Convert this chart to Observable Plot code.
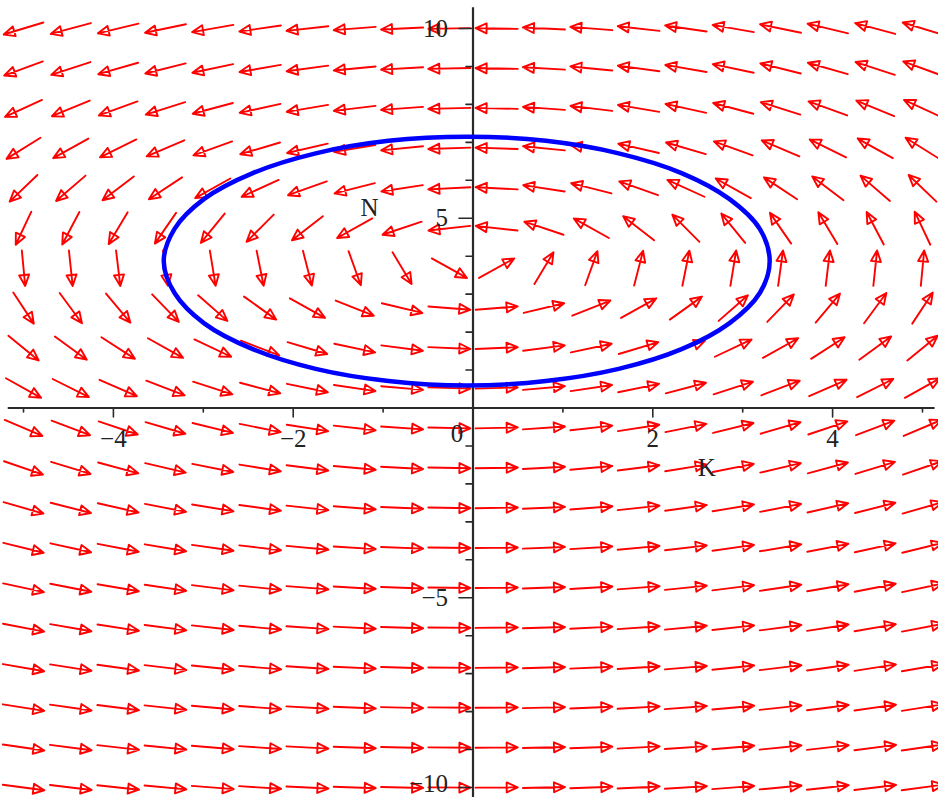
<!DOCTYPE html>
<html><head><meta charset="utf-8">
<script src="https://cdn.jsdelivr.net/npm/d3@7"></script>
<script src="https://cdn.jsdelivr.net/npm/@observablehq/plot@0.6"></script>
<style>body{margin:0;background:#fff}#chart svg{display:block}</style>
</head><body><div id="chart"></div>
<script>
// Direction-field grid (20 x 20, as in the reference)
const kGrid = [-5, -4.474, -3.947, -3.421, -2.895, -2.368, -1.842, -1.316, -0.789, -0.263, 0.263, 0.789, 1.316, 1.842, 2.368, 2.895, 3.421, 3.947, 4.474, 5];
const nGrid = [-10, -8.947, -7.895, -6.842, -5.789, -4.737, -3.684, -2.632, -1.579, -0.526, 0.526, 1.579, 2.632, 3.684, 4.737, 5.789, 6.842, 7.895, 8.947, 10];
// System: K' = equilibriumN - N, N' = growthRate * K
const equilibriumN = 3.86;
const growthRate = 0.88;

// Closed orbit (blue curve)
const orbitK = [3.30, 3.19, 2.85, 2.32, 1.62, 0.81, -0.07, -0.94, -1.75, -2.45, -2.99, -3.32, -3.44, -3.32, -2.99, -2.45, -1.75, -0.94, -0.07, 0.81, 1.62, 2.32, 2.85, 3.19];
const orbitN = [3.87, 4.72, 5.51, 6.19, 6.71, 7.04, 7.15, 7.04, 6.71, 6.19, 5.51, 4.72, 3.87, 3.03, 2.23, 1.55, 1.03, 0.71, 0.59, 0.71, 1.03, 1.55, 2.23, 3.03];

// Axes
const xTickValues = [-4, -2, 2, 4];
const xTickLabels = ["\u22124", "\u22122", "2", "4"];
const xMinorTicks = [-5, -3, -1, 1, 3, 5];
const yTickValues = [-10, -5, 5, 10];
const yTickLabels = ["\u221210", "\u22125", "5", "10"];
const yMinorTicks = [-9, -8, -7, -6, -4, -3, -2, -1, 1, 2, 3, 4, 6, 7, 8, 9];

const W = 938, H = 797;
const xDomain = [-5.256, 5.178];
const yDomain = [-10.264, 10.738];
const pxK = W / (xDomain[1] - xDomain[0]);
const pxN = H / (yDomain[1] - yDomain[0]);
const dK = kGrid[1] - kGrid[0];
const dN = nGrid[1] - nGrid[0];
const fill = 0.89;

const field = [];
for (const n of nGrid) for (const k of kGrid) {
  const vk = equilibriumN - n, vn = growthRate * k;
  const cu = vk / dK, cv = vn / dN;
  const m = Math.hypot(cu, cv) || 1;
  const px = fill * (cu / m) * dK * pxK;
  const py = fill * (cv / m) * dN * pxN;
  field.push({k, n, rotate: Math.atan2(px, py) * 180 / Math.PI, length: Math.hypot(px, py)});
}
const orbit = orbitK.map((k, i) => ({k, n: orbitN[i]}));
const yLabels = yTickValues.map((v, i) => ({v, label: yTickLabels[i]}));

const mapleArrow = {draw(c, l) {
  const h = 11, w = 5;
  c.moveTo(0, 0); c.lineTo(0, -l);
  c.moveTo(0, -l); c.lineTo(-w, -l + h); c.lineTo(w, -l + h); c.closePath();
}};
const tickShape = {draw(c, l) { c.moveTo(0, 0); c.lineTo(0, -l); }};

const font = "'Liberation Serif', 'DejaVu Serif', serif";
const axisColor = "#2a2a2a";
const fs = 25;

const chart = Plot.plot({
  width: W, height: H,
  margin: 0,
  x: {domain: xDomain, axis: null},
  y: {domain: yDomain, axis: null},
  length: {type: "identity"},
  marks: [
    Plot.vector(field, {x: "k", y: "n", rotate: "rotate", length: "length", anchor: "middle", shape: mapleArrow, stroke: "#ff0000", strokeWidth: 1.9, strokeLinejoin: "round"}),
    Plot.ruleY([0], {x1: -5.17, x2: 5.14, stroke: axisColor, strokeWidth: 2.2}),
    Plot.ruleX([0], {y1: -10.3, y2: 10.55, stroke: axisColor, strokeWidth: 2.2}),
    Plot.vector(xTickValues, {x: d => d, y: () => 0, rotate: 180, length: 9, anchor: "start", shape: tickShape, stroke: axisColor, strokeWidth: 1.6}),
    Plot.vector(xMinorTicks, {x: d => d, y: () => 0, rotate: 180, length: 4, anchor: "start", shape: tickShape, stroke: axisColor, strokeWidth: 1.6}),
    Plot.vector(yTickValues, {x: () => 0, y: d => d, rotate: 270, length: 14, anchor: "start", shape: tickShape, stroke: axisColor, strokeWidth: 1.6}),
    Plot.vector(yMinorTicks, {x: () => 0, y: d => d, rotate: 270, length: 7, anchor: "start", shape: tickShape, stroke: axisColor, strokeWidth: 1.6}),
    Plot.line(orbit, {x: "k", y: "n", curve: "catmull-rom-closed", stroke: "#0000ff", strokeWidth: 4.5}),
    Plot.text(xTickValues, {x: d => d, y: () => 0, text: (d, i) => xTickLabels[i], dy: 31, fontSize: fs, fontFamily: font, fill: "#222"}),
    Plot.text(yLabels.filter(d => d.v !== -10), {x: () => 0, y: "v", text: "label", dx: -25, textAnchor: "end", fontSize: fs, fontFamily: font, fill: "#222"}),
    Plot.text(yLabels.filter(d => d.v === -10), {x: () => 0, y: "v", text: "label", dx: -25, dy: -3, textAnchor: "end", fontSize: fs, fontFamily: font, fill: "#222"}),
    Plot.text(["0"], {x: () => 0, y: () => 0, dx: -16, dy: 26, fontSize: fs, fontFamily: font, fill: "#222"}),
    Plot.text(["K"], {x: () => 2.6, y: () => -1.57, fontSize: fs, fontFamily: font, fill: "#222"}),
    Plot.text(["N"], {x: () => -1.15, y: () => 5.28, fontSize: fs, fontFamily: font, fill: "#222"})
  ]
});
document.getElementById("chart").append(chart);
</script>
</body></html>
